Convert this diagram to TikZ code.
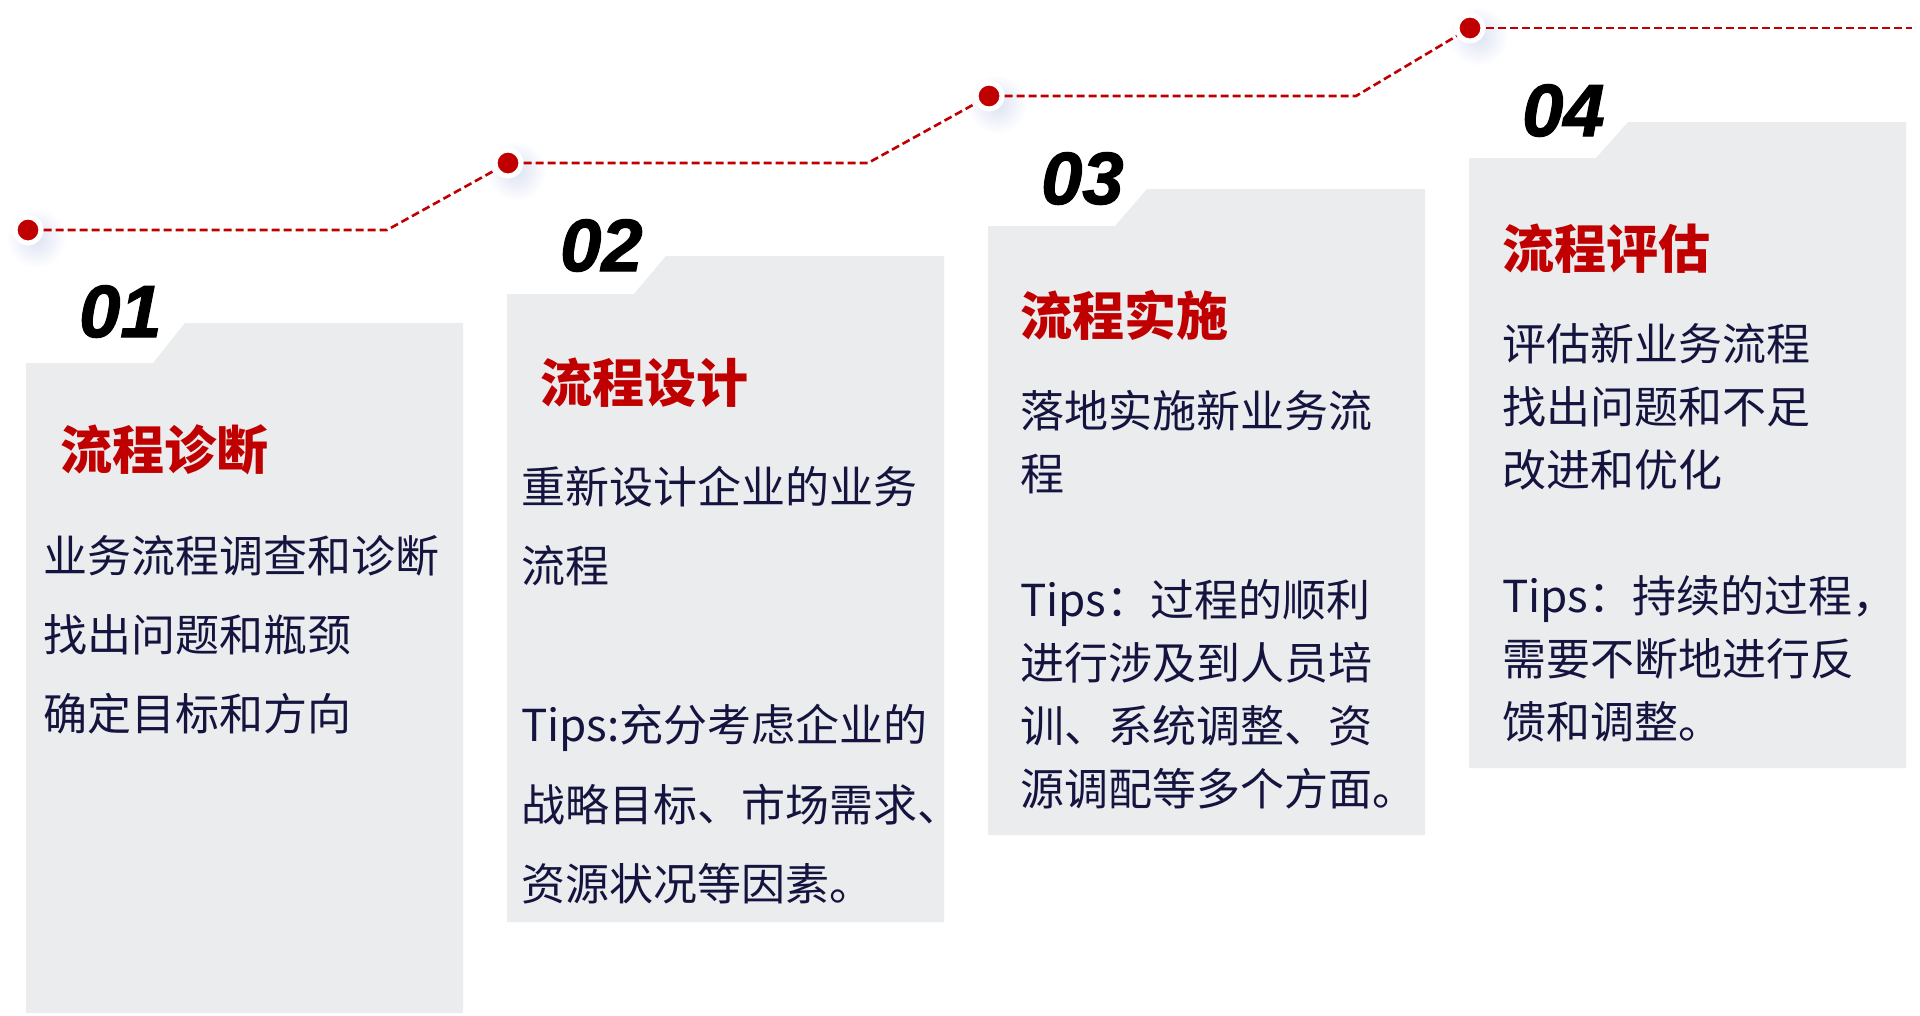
\documentclass[tikz,border=0pt]{standalone}
\usepackage{fontspec}
\setmainfont{Noto Sans CJK SC}
\newfontfamily\numfont{Liberation Sans}[BoldItalicFeatures={FakeBold=1.6}]
\definecolor{bred}{HTML}{C00000}
\definecolor{boxgray}{HTML}{EBECEE}
\definecolor{txt}{HTML}{15143F}
\definecolor{glowc}{HTML}{DCE2F3}
\tikzset{
  panel/.style={fill=boxgray, draw=none},
  numtxt/.style={anchor=base west, inner sep=0pt, font=\fontsize{74}{74}\selectfont\numfont\bfseries\itshape, text=black},
  ttl/.style={anchor=base west, inner sep=0pt, font=\fontsize{52}{52}\selectfont\bfseries, text=bred},
  body/.style={anchor=base west, inner sep=0pt, font=\fontsize{44}{44}\selectfont, text=txt},
  dotnode/.style={circle, fill=bred, draw=white, line width=5pt, minimum size=26pt, inner sep=0pt},
  glowdot/.style={inner color=glowc, outer color=white},
  dashline/.style={draw=bred, line width=2.6pt, dash pattern=on 8pt off 4pt}
}
\newcommand\stepshape[4]{%
  \fill[panel] (#1,#2) -- ({#1+127},#2) -- ({#1+159},#3) -- ({#1+437},#3) -- ({#1+437},#4) -- (#1,#4) -- cycle;}
\begin{document}
\begin{tikzpicture}[x=1pt,y=-1pt]
\path[use as bounding box] (0,0) rectangle (1920,1015);
\fill[white] (0,0) rectangle (1920,1015);

% panels
\stepshape{26}{363}{323}{1013}
\stepshape{507}{294}{256}{922}
\stepshape{988}{226}{189}{835}
\stepshape{1469}{158}{122}{768}

% glows
\shade[glowdot] (36,238) circle (30);
\shade[glowdot] (516,171) circle (30);
\shade[glowdot] (997,104) circle (30);
\shade[glowdot] (1478,36) circle (30);

% dots
\node[dotnode] (d1) at (28,230) {};
\node[dotnode] (d2) at (508,163) {};
\node[dotnode] (d3) at (989,96) {};
\node[dotnode] (d4) at (1470,28) {};
\coordinate (k1) at (387,230);
\coordinate (k2) at (868,163);
\coordinate (k3) at (1356,96);
\coordinate (e) at (1912,28);

\draw[dashline] (d1) -- (k1) -- (d2);
\draw[dashline] (d2) -- (k2) -- (d3);
\draw[dashline] (d3) -- (k3) -- (d4);
\draw[dashline] (d4) -- (e);

% numbers
\node[numtxt] (n1) at (79,337) {01};
\node[numtxt] (n2) at (560,271) {02};
\node[numtxt] (n3) at (1041,204) {03};
\node[numtxt] (n4) at (1522,136) {04};

% titles
\node[ttl] (t1) at (60,469) {流程诊断};
\node[ttl] (t2) at (540,402) {流程设计};
\node[ttl] (t3) at (1020,335) {流程实施};
\node[ttl] (t4) at (1502,268) {流程评估};

% box 1 text
\node[body] (a1) at (43,572) {业务流程调查和诊断};
\node[body] (a2) at (43,651) {找出问题和瓶颈};
\node[body] (a3) at (43,730) {确定目标和方向};

% box 2 text
\node[body] (b1) at (521,503) {重新设计企业的业务};
\node[body] (b2) at (521,582) {流程};
\node[body] (b3) at (521,741) {Tips:充分考虑企业的};
\node[body] (b4) at (521,821) {战略目标、市场需求、};
\node[body] (b5) at (521,900) {资源状况等因素。};

% box 3 text
\node[body] (c1) at (1020,427) {落地实施新业务流};
\node[body] (c2) at (1020,490) {程};
\node[body] (c3) at (1020,616) {Tips：过程的顺利};
\node[body] (c4) at (1020,679) {进行涉及到人员培};
\node[body] (c5) at (1020,742) {训、系统调整、资};
\node[body] (c6) at (1020,805) {源调配等多个方面。};

% box 4 text
\node[body] (e1) at (1502,360) {评估新业务流程};
\node[body] (e2) at (1502,423) {找出问题和不足};
\node[body] (e3) at (1502,486) {改进和优化};
\node[body] (e4) at (1502,612) {Tips：持续的过程，};
\node[body] (e5) at (1502,675) {需要不断地进行反};
\node[body] (e6) at (1502,738) {馈和调整。};
\end{tikzpicture}
\end{document}
